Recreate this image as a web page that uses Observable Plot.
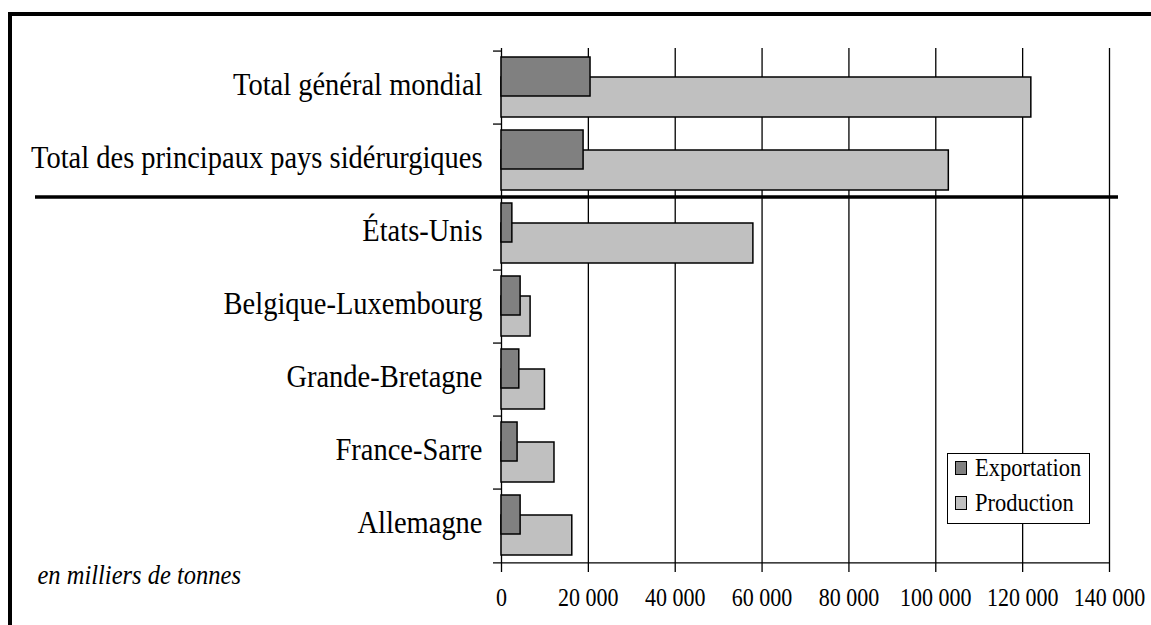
<!DOCTYPE html>
<html>
<head>
<meta charset="utf-8">
<script src="https://cdn.jsdelivr.net/npm/d3@7"></script>
<script src="https://cdn.jsdelivr.net/npm/@observablehq/plot@0.6"></script>
<style>
  html, body { margin: 0; padding: 0; background: #fff; }
  #wrap { position: relative; width: 1151px; height: 625px; overflow: hidden; font-family: "Liberation Serif", "Times New Roman", serif; }
  #border { position: absolute; left: 8px; top: 12px; width: 1200px; height: 700px; border-top: 4px solid #000; border-left: 4px solid #000; box-sizing: border-box; pointer-events: none; }
  #legend { position: absolute; left: 947px; top: 453px; width: 143px; height: 71px; border: 1px solid #000; background: #fff; box-sizing: border-box; font-size: 22.5px; font-family: "Liberation Serif", serif; }
  .item { position: absolute; left: 7px; display: flex; align-items: center; white-space: nowrap; }
  .sw { width: 10px; height: 12px; border: 1px solid #000; margin-right: 8px; box-sizing: content-box; }
  .item span { display: inline-block; transform: scaleY(1.1); }
</style>
</head>
<body>
<div id="wrap"></div>
<script>
const categories = [
  "Total général mondial",
  "Total des principaux pays sidérurgiques",
  "États-Unis",
  "Belgique-Luxembourg",
  "Grande-Bretagne",
  "France-Sarre",
  "Allemagne"
];
const exportation = [20500, 18900, 2500, 4400, 4100, 3700, 4400];
const production = [122000, 103000, 58000, 6700, 10000, 12200, 16300];
const xTicks = [0, 20000, 40000, 60000, 80000, 100000, 120000, 140000];
const seriesNames = ["Exportation", "Production"];
const seriesColors = ["#808080", "#c0c0c0"];
const note = "en milliers de tonnes";

const rows = categories.map((c, i) => ({cat: c, exportation: exportation[i], production: production[i]}));

const W = 1151, H = 625;
const mL = 501, mR = 42, mT = 48, mB = 60;
const bw = (H - mT - mB) / categories.length;
const fmt = d => d3.format(",")(d).replace(/,/g, "\u00a0");

const chart = Plot.plot({
  width: W,
  height: H,
  marginLeft: mL,
  marginRight: mR,
  marginTop: mT,
  marginBottom: mB,
  style: {fontFamily: "'Liberation Serif', 'Times New Roman', serif", background: "transparent", color: "#000"},
  x: {domain: [0, 140000], ticks: xTicks},
  y: {type: "band", domain: categories, padding: 0},
  marks: [
    // vertical gridlines
    Plot.ruleX(xTicks, {stroke: "#000", strokeWidth: 1.3}),
    // production bars (behind)
    Plot.barX(rows, {y: "cat", x: "production", fill: seriesColors[1], stroke: "#000", strokeWidth: 1.5, insetTop: 26, insetBottom: 7}),
    // exportation bars (front)
    Plot.barX(rows, {y: "cat", x: "exportation", fill: seriesColors[0], stroke: "#000", strokeWidth: 1.5, insetTop: 6, insetBottom: 28}),
    // category boundary ticks on the y axis
    Plot.ruleY(categories, {y: d => d, x1: 0, x2: 0, insetLeft: -8, dy: -bw / 2, stroke: "#000", strokeWidth: 1.3}),
    // bottom axis line
    Plot.ruleY([categories[categories.length - 1]], {y: d => d, x1: 0, x2: 140000, insetLeft: -8, dy: bw / 2, stroke: "#000", strokeWidth: 1.3}),
    // separator between totals and countries
    Plot.ruleY([categories[2]], {y: d => d, x1: 0, x2: 140000, insetLeft: -(mL - 35), insetRight: -9, dy: -bw / 2, stroke: "#000", strokeWidth: 3.5}),
    Plot.axisX({ticks: xTicks, tickFormat: fmt, tickSize: 7, tickPadding: 16, fontSize: 22, stroke: "#000", strokeWidth: 1.3, label: null}),
    Plot.axisY({tickSize: 0, tickPadding: 19, fontSize: 28.5, dy: -3, label: null}),
    Plot.text([note], {frameAnchor: "bottom-left", dx: 37 - mL, dy: 10, textAnchor: "start", lineAnchor: "middle", fontStyle: "italic", fontSize: 24.5})
  ]
});

// slightly taller glyphs, as in the reference
chart.querySelectorAll("text").forEach(el => {
  const t = el.getAttribute("transform");
  if (t) el.setAttribute("transform", t + " scale(1,1.1)");
});

const wrap = document.getElementById("wrap");
wrap.appendChild(chart);
const border = document.createElement("div");
border.id = "border";
wrap.appendChild(border);

const legend = document.createElement("div");
legend.id = "legend";
seriesNames.forEach((name, i) => {
  const it = document.createElement("div");
  it.className = "item";
  it.style.top = (i === 0 ? 1 : 36) + "px";
  const sw = document.createElement("div");
  sw.className = "sw";
  sw.style.background = seriesColors[i];
  const t = document.createElement("span");
  t.textContent = name;
  it.appendChild(sw);
  it.appendChild(t);
  legend.appendChild(it);
});
wrap.appendChild(legend);
</script>
</body>
</html>
